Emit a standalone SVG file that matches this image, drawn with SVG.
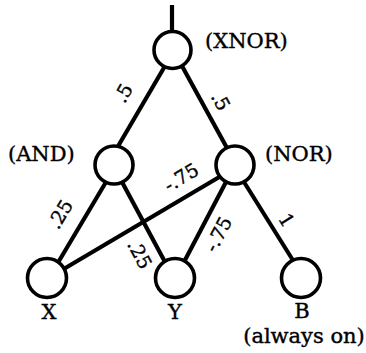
<svg xmlns="http://www.w3.org/2000/svg" width="366" height="353" viewBox="0 0 366 353">
<style>
.e{stroke:#000;stroke-width:4.2;stroke-linecap:butt;fill:none}
.n{fill:#fff;stroke:#000;stroke-width:3.6}
.t{font-family:"DejaVu Serif","Liberation Serif",serif;font-size:21px;fill:#000;stroke:#000;stroke-width:0.4}
.w{font-family:"DejaVu Serif","Liberation Serif",serif;font-size:19px;fill:#000;stroke:#000;stroke-width:0.4;text-anchor:middle;dominant-baseline:central}
</style>
<rect width="366" height="353" fill="#fff"/>
<g id="connectors">
<line class="e" x1="172" y1="5" x2="172" y2="34"/>
<line class="e" x1="165" y1="66" x2="117" y2="148"/>
<line class="e" x1="182" y1="66" x2="227" y2="148"/>
<line class="e" x1="106" y1="182" x2="56" y2="266"/>
<line class="e" x1="122" y1="182" x2="165" y2="262"/>
<line class="e" x1="221" y1="176" x2="62" y2="270"/>
<line class="e" x1="226" y1="182" x2="184" y2="262"/>
<line class="e" x1="244" y1="182" x2="294" y2="262"/>
<text class="w" transform="translate(123,93) rotate(-60)">.5</text>
<text class="w" transform="translate(221,101) rotate(61)">.5</text>
<text class="w" transform="translate(60,214) rotate(-59)">.25</text>
<text class="w" transform="translate(140,254) rotate(62)">.25</text>
<text class="w" transform="translate(181,177) rotate(-31)">-.75</text>
<text class="w" transform="translate(218,234) rotate(-62)">-.75</text>
<text class="w" transform="translate(287,220) rotate(58)">1</text>
</g>
<g id="xnor"><circle class="n" cx="172.5" cy="50" r="18.5"/><text class="t" x="205" y="48">(XNOR)</text></g>
<g id="and"><circle class="n" cx="114" cy="165" r="19"/><text class="t" x="8" y="161">(AND)</text></g>
<g id="nor"><circle class="n" cx="235" cy="165" r="19"/><text class="t" x="265" y="161">(NOR)</text></g>
<g id="x"><circle class="n" cx="47" cy="278" r="19.5"/><text class="t" x="49" y="319" text-anchor="middle">X</text></g>
<g id="y"><circle class="n" cx="175" cy="278" r="19.5"/><text class="t" x="175" y="319" text-anchor="middle">Y</text></g>
<g id="b"><circle class="n" cx="301" cy="278" r="19.5"/><text class="t" x="302" y="318" text-anchor="middle">B</text><text class="t" x="304" y="343" text-anchor="middle">(always on)</text></g>
</svg>
